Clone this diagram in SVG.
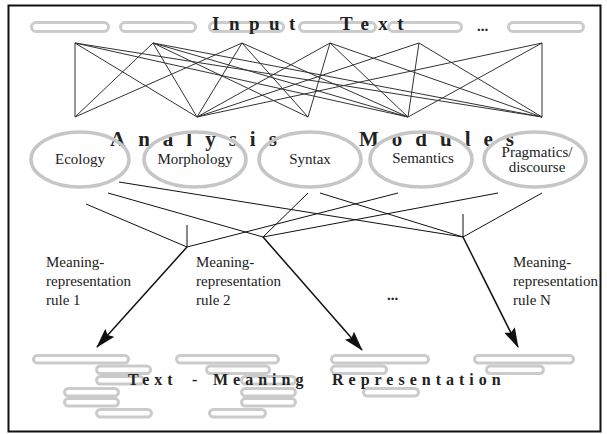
<svg xmlns="http://www.w3.org/2000/svg" width="607" height="434" viewBox="0 0 607 434">
<style>
.pill{fill:none;stroke:#cbcbcb;stroke-width:3}
.ell{fill:none;stroke:#c6c6c6;stroke-width:3.5}
.net{stroke:#333;stroke-width:1;fill:none}
.con{stroke:#111;stroke-width:1;fill:none}
.arr{stroke:#111;stroke-width:1.5;fill:none}
text{font-family:"Liberation Serif","Times New Roman",Times,serif}
.title{font-weight:bold;fill:#222}
.lbl{font-size:15px;fill:#222}
</style>
<defs>
<marker id="ah" markerUnits="userSpaceOnUse" markerWidth="20" markerHeight="12" refX="19" refY="6" orient="auto">
<path d="M0,0 L20,6 L0,12 L3,6 z" fill="#111"/>
</marker>
</defs>
<rect x="8.5" y="5.5" width="592" height="426" fill="#fff" stroke="#111" stroke-width="2"/>

<g id="input-text">
<rect class="pill" x="31.5" y="22.5" width="77" height="9" rx="4.5"/>
<rect class="pill" x="120.5" y="22.5" width="75" height="9" rx="4.5"/>
<rect class="pill" x="209.5" y="22.5" width="74" height="9" rx="4.5"/>
<rect class="pill" x="299.5" y="22.5" width="76" height="9" rx="4.5"/>
<rect class="pill" x="388.5" y="22.5" width="73" height="9" rx="4.5"/>
<rect class="pill" x="508.5" y="22.5" width="75" height="9" rx="4.5"/>
<text class="lbl" x="477" y="31" font-weight="bold">...</text>
<text class="title" y="30" font-size="19" letter-spacing="9.5"><tspan x="212">Input</tspan><tspan x="340">Text</tspan></text>
</g>

<g id="network">
<path class="net" d="M75,43 L75,117 M75,43 L197,117 M75,43 L408,117 M75,43 L542,117
M153,43 L75,117 M153,43 L197,117 M153,43 L308,117 M153,43 L408,117 M153,43 L542,117
M242,43 L75,117 M242,43 L197,117 M242,43 L308,117 M242,43 L408,117
M330,43 L197,117 M330,43 L308,117 M330,43 L408,117 M330,43 L542,117
M419,43 L197,117 M419,43 L408,117 M419,43 L542,117
M542,43 L197,117 M542,43 L408,117 M542,43 L542,117"/>
</g>

<g id="analysis-modules">
<text class="title" y="146" font-size="21" letter-spacing="13"><tspan x="110">Analysis</tspan><tspan x="359">Modules</tspan></text>
</g>

<g id="ecology">
<ellipse class="ell" cx="80" cy="159.5" rx="49" ry="27.5"/>
<text class="lbl" x="80" y="164" text-anchor="middle">Ecology</text>
</g>
<g id="morphology">
<ellipse class="ell" cx="195" cy="159.5" rx="51" ry="27.5"/>
<text class="lbl" x="195" y="164" text-anchor="middle">Morphology</text>
</g>
<g id="syntax">
<ellipse class="ell" cx="310" cy="159.5" rx="51" ry="27.5"/>
<text class="lbl" x="310" y="164" text-anchor="middle">Syntax</text>
</g>
<g id="semantics">
<ellipse class="ell" cx="421" cy="159.5" rx="51" ry="27.5"/>
<text class="lbl" x="423" y="163" text-anchor="middle">Semantics</text>
</g>
<g id="pragmatics">
<ellipse class="ell" cx="535" cy="159.5" rx="51" ry="27.5"/>
<text class="lbl" x="537" y="157" text-anchor="middle">Pragmatics/</text>
<text class="lbl" x="537" y="172" text-anchor="middle">discourse</text>
</g>

<g id="connectors">
<path class="con" d="M86,204 L187,247 M108,193 L263,237 M119,182 L463,237
M398,193 L187,247 M498,193 L263,237 M320,193 L463,237 M542,193 L463,237
M187,225 L187,247 M463,214 L463,237"/>
<path class="con" stroke-width="1.3" d="M308,193 L263,237"/>
<path class="arr" d="M187,247 L97,347" marker-end="url(#ah)"/>
<path class="arr" d="M263,237 L362,350" marker-end="url(#ah)"/>
<path class="arr" stroke-width="2" d="M463,237 L518,347" marker-end="url(#ah)"/>
</g>

<g id="rule-1">
<text class="lbl" x="46" y="267">Meaning-</text>
<text class="lbl" x="46" y="286">representation</text>
<text class="lbl" x="46" y="305">rule 1</text>
</g>
<g id="rule-2">
<text class="lbl" x="196" y="267">Meaning-</text>
<text class="lbl" x="196" y="286">representation</text>
<text class="lbl" x="196" y="305">rule 2</text>
</g>
<g id="rule-dots">
<text class="lbl" x="387" y="300" font-weight="bold">...</text>
</g>
<g id="rule-n">
<text class="lbl" x="513" y="267">Meaning-</text>
<text class="lbl" x="513" y="286">representation</text>
<text class="lbl" x="513" y="305">rule N</text>
</g>

<g id="text-meaning-representation">
<rect class="pill" x="33.5" y="355.5" width="95" height="7.5" rx="3.75"/>
<rect class="pill" x="96.5" y="366" width="54" height="7.5" rx="3.75"/>
<rect class="pill" x="96.5" y="376.5" width="47" height="7.5" rx="3.75"/>
<rect class="pill" x="64.5" y="388.5" width="54" height="7.5" rx="3.75"/>
<rect class="pill" x="64.5" y="398.5" width="54" height="7.5" rx="3.75"/>
<rect class="pill" x="96.5" y="409.5" width="55" height="7.5" rx="3.75"/>

<rect class="pill" x="176.5" y="355.5" width="102" height="7.5" rx="3.75"/>
<rect class="pill" x="206.5" y="366" width="63" height="7.5" rx="3.75"/>
<rect class="pill" x="241.5" y="376.5" width="54" height="7.5" rx="3.75"/>
<rect class="pill" x="241.5" y="388.5" width="54" height="7.5" rx="3.75"/>
<rect class="pill" x="241.5" y="398.5" width="54" height="7.5" rx="3.75"/>
<rect class="pill" x="209.5" y="409.5" width="56" height="7.5" rx="3.75"/>

<rect class="pill" x="331.5" y="355.5" width="97" height="7.5" rx="3.75"/>
<rect class="pill" x="331.5" y="366" width="55" height="7.5" rx="3.75"/>
<rect class="pill" x="363.5" y="388.5" width="55" height="7.5" rx="3.75"/>

<rect class="pill" x="474.5" y="355.5" width="99" height="7.5" rx="3.75"/>
<rect class="pill" x="486.5" y="366" width="57" height="7.5" rx="3.75"/>

<text class="title" y="385" font-size="16" letter-spacing="5"><tspan x="128">Text</tspan><tspan x="192">-</tspan><tspan x="213">Meaning</tspan><tspan x="332">Representation</tspan></text>
</g>
</svg>
